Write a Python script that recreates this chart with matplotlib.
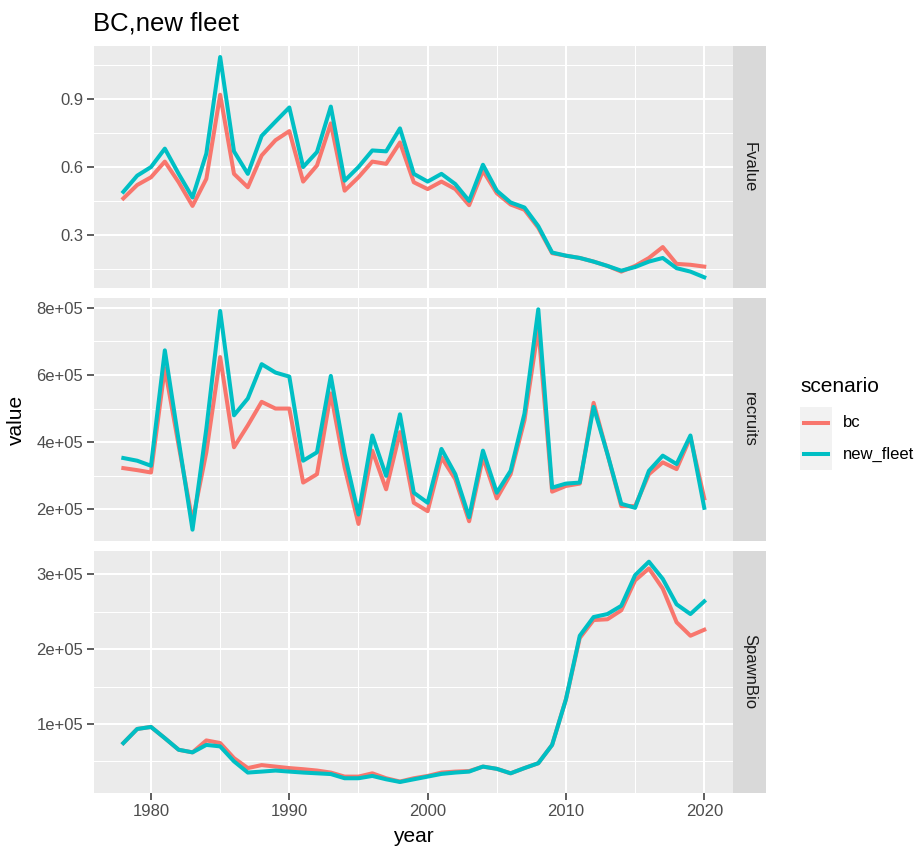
import numpy as np
import matplotlib
matplotlib.use("Agg")
import matplotlib.pyplot as plt
from matplotlib.ticker import FixedLocator, FuncFormatter
from matplotlib.patches import Rectangle
from matplotlib.lines import Line2D

plt.rcParams['font.family'] = ['Liberation Sans', 'DejaVu Sans']

# data: one row per facet, two scenarios
years = np.arange(1978, 2021)

fvalue_bc = [0.462, 0.521, 0.555, 0.624, 0.533, 0.429, 0.548, 0.918, 0.570, 0.511,
             0.651, 0.718, 0.758, 0.536, 0.607, 0.792, 0.496, 0.555, 0.624, 0.614,
             0.708, 0.533, 0.503, 0.536, 0.503, 0.432, 0.584, 0.485, 0.435, 0.412,
             0.333, 0.221, 0.210, 0.200, 0.184, 0.165, 0.140, 0.165, 0.200, 0.248,
             0.174, 0.170, 0.162]
fvalue_new = [0.491, 0.562, 0.600, 0.681, 0.570, 0.466, 0.659, 1.084, 0.669, 0.570,
              0.737, 0.800, 0.862, 0.600, 0.666, 0.866, 0.540, 0.600, 0.673, 0.669,
              0.770, 0.570, 0.536, 0.570, 0.525, 0.451, 0.610, 0.496, 0.444, 0.422,
              0.340, 0.224, 0.210, 0.200, 0.184, 0.165, 0.144, 0.160, 0.184, 0.200,
              0.155, 0.140, 0.115]

# recruits and spawning biomass in units of 1e5
recruits_bc = [3.23, 3.17, 3.10, 6.20, 3.90, 1.65, 3.70, 6.53, 3.85, 4.50,
               5.20, 5.00, 5.00, 2.80, 3.05, 5.45, 3.25, 1.57, 3.75, 2.60,
               4.30, 2.20, 1.95, 3.55, 2.90, 1.65, 3.55, 2.33, 3.05, 4.65,
               7.40, 2.53, 2.70, 2.77, 5.17, 3.65, 2.10, 2.10, 3.05, 3.40,
               3.20, 4.15, 2.33]
recruits_new = [3.53, 3.45, 3.30, 6.73, 4.05, 1.40, 4.40, 7.90, 4.80, 5.30,
                6.32, 6.07, 5.95, 3.45, 3.70, 5.97, 3.65, 1.85, 4.20, 3.00,
                4.83, 2.50, 2.20, 3.80, 3.05, 1.77, 3.75, 2.50, 3.15, 4.85,
                7.95, 2.65, 2.77, 2.80, 5.05, 3.65, 2.17, 2.05, 3.15, 3.60,
                3.35, 4.20, 2.05]

spawn_bc = [0.744, 0.933, 0.960, 0.810, 0.655, 0.620, 0.780, 0.745, 0.543, 0.410,
            0.450, 0.430, 0.410, 0.395, 0.377, 0.350, 0.296, 0.296, 0.340, 0.274,
            0.230, 0.274, 0.305, 0.350, 0.363, 0.370, 0.430, 0.400, 0.340, 0.410,
            0.475, 0.720, 1.330, 2.150, 2.390, 2.400, 2.520, 2.920, 3.080, 2.810,
            2.360, 2.180, 2.260]
spawn_new = [0.744, 0.933, 0.960, 0.810, 0.655, 0.620, 0.720, 0.700, 0.500, 0.350,
             0.363, 0.377, 0.363, 0.350, 0.340, 0.330, 0.274, 0.274, 0.305, 0.260,
             0.224, 0.260, 0.296, 0.332, 0.350, 0.363, 0.430, 0.400, 0.340, 0.410,
             0.475, 0.720, 1.330, 2.180, 2.430, 2.470, 2.580, 2.990, 3.170, 2.940,
             2.600, 2.470, 2.640]

facets = ['Fvalue', 'recruits', 'SpawnBio']
scenarios = ['bc', 'new_fleet']
colors = {'bc': '#F8766D', 'new_fleet': '#00BFC4'}
series = {
    'Fvalue': (np.array(fvalue_bc), np.array(fvalue_new)),
    'recruits': (np.array(recruits_bc) * 1e5, np.array(recruits_new) * 1e5),
    'SpawnBio': (np.array(spawn_bc) * 1e5, np.array(spawn_new) * 1e5),
}
y_major = {
    'Fvalue': [0.3, 0.6, 0.9],
    'recruits': [2e5, 4e5, 6e5, 8e5],
    'SpawnBio': [1e5, 2e5, 3e5],
}
y_minor = {
    'Fvalue': [0.15, 0.45, 0.75, 1.05],
    'recruits': [1e5, 3e5, 5e5, 7e5],
    'SpawnBio': [0.5e5, 1.5e5, 2.5e5, 3.5e5],
}
y_fmt = {
    'Fvalue': lambda v, p: f'{v:.1f}',
    'recruits': lambda v, p: f'{v:.0e}',
    'SpawnBio': lambda v, p: f'{v:.0e}',
}

W, H = 923, 849
fig = plt.figure(figsize=(W / 100, H / 100), dpi=100)


def rect(x0, y0, x1, y1):
    # pixel box (top-left origin) -> figure fraction
    return [x0 / W, 1 - y1 / H, (x1 - x0) / W, (y1 - y0) / H]


px_left, px_right, strip_right = 94.3, 733.3, 765.5
rows = [(46, 288.3), (298.3, 540.7), (550.7, 793)]

axes = []
for i, (name, (top, bot)) in enumerate(zip(facets, rows)):
    ax = fig.add_axes(rect(px_left, top, px_right, bot))
    ax.set_facecolor('#EBEBEB')
    for s in ax.spines.values():
        s.set_visible(False)

    bc, new = series[name]
    ax.plot(years, bc, color=colors['bc'], lw=2.9, solid_joinstyle='round', zorder=3)
    ax.plot(years, new, color=colors['new_fleet'], lw=2.9, solid_joinstyle='round', zorder=4)
    ax.margins(x=0.05, y=0.05)

    ax.xaxis.set_major_locator(FixedLocator([1980, 1990, 2000, 2010, 2020]))
    ax.xaxis.set_minor_locator(FixedLocator([1975, 1985, 1995, 2005, 2015]))
    ax.yaxis.set_major_locator(FixedLocator(y_major[name]))
    ax.yaxis.set_minor_locator(FixedLocator(y_minor[name]))
    ax.yaxis.set_major_formatter(FuncFormatter(y_fmt[name]))

    ax.grid(which='major', color='white', lw=1.45)
    ax.grid(which='minor', color='white', lw=0.75)
    ax.set_axisbelow(True)

    ax.tick_params(which='major', length=5, width=1.1, color='#333333',
                   labelcolor='#4D4D4D', labelsize=12, pad=3)
    ax.tick_params(which='minor', length=0)
    if i < 2:
        ax.tick_params(axis='x', which='both', bottom=False, labelbottom=False)

    # facet strip on the right
    sax = fig.add_axes(rect(px_right, top, strip_right, bot))
    sax.set_facecolor('#D9D9D9')
    sax.set_xticks([])
    sax.set_yticks([])
    for s in sax.spines.values():
        s.set_visible(False)
    sax.text(0.5, 0.5, name, rotation=-90, ha='center', va='center',
             fontsize=12, color='#1A1A1A', transform=sax.transAxes)
    axes.append(ax)

# titles
fig.text(93 / W, 1 - 23 / H, 'BC,new fleet', fontsize=18.5, ha='left', va='center')
fig.text(16 / W, 1 - 420 / H, 'value', fontsize=15, rotation=90, ha='center', va='center')
fig.text((px_left + px_right) / 2 / W, 1 - 836 / H, 'year', fontsize=15,
         ha='center', va='center')

# legend
fig.text(800 / W, 1 - 386 / H, 'scenario', fontsize=15, ha='left', va='center')
key_top = 407
for k, name in enumerate(scenarios):
    y0 = key_top + k * 31.5
    fig.add_artist(Rectangle((800 / W, 1 - (y0 + 31.5) / H), 31.5 / W, 31.5 / H,
                             transform=fig.transFigure, facecolor='#F2F2F2',
                             edgecolor='none'))
    yc = 1 - (y0 + 15.75) / H
    fig.add_artist(Line2D([803.5 / W, 828 / W], [yc, yc], transform=fig.transFigure,
                          color=colors[name], lw=2.9))
    fig.text(843 / W, yc, name, fontsize=12, ha='left', va='center')

fig.savefig('out.png', dpi=100)
